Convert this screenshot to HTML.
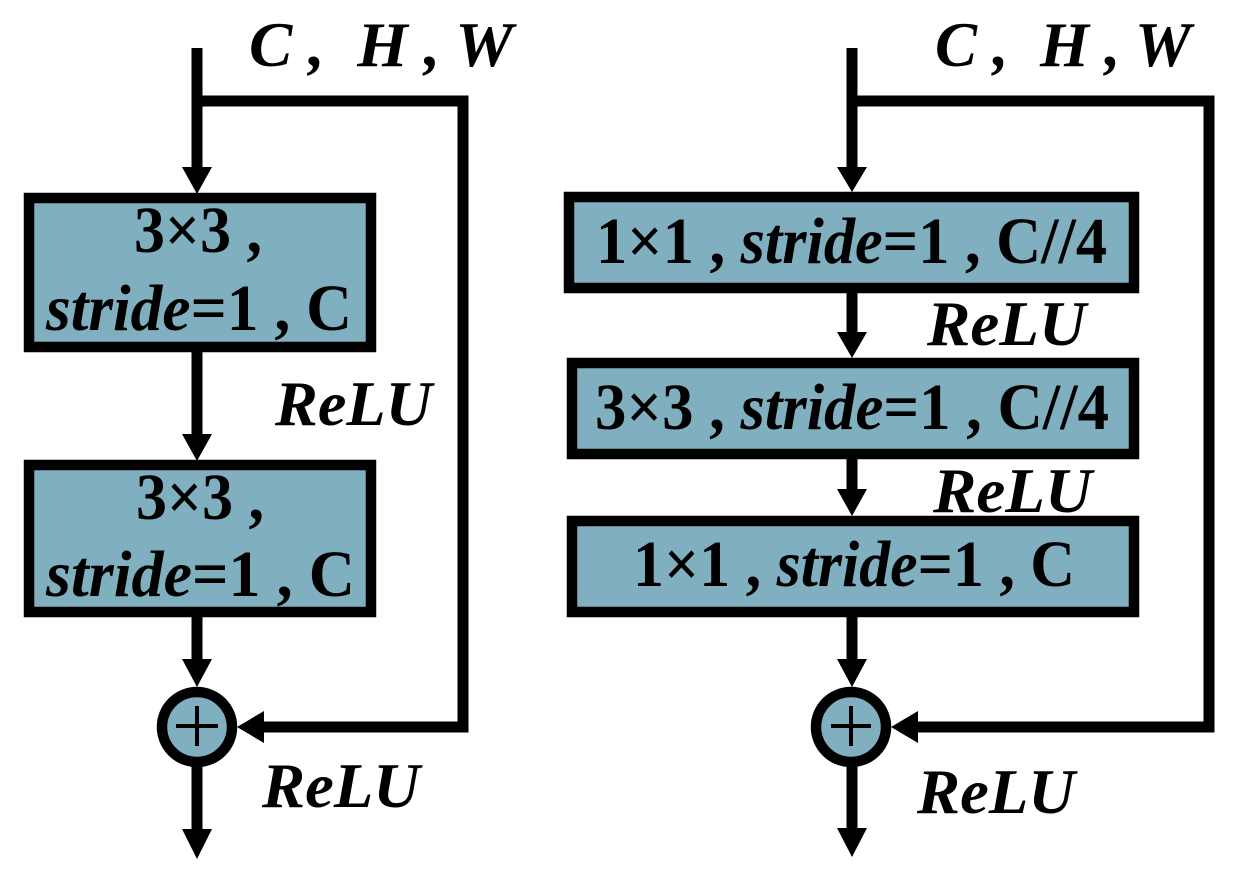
<!DOCTYPE html>
<html><head><meta charset="utf-8"><style>
html,body{margin:0;padding:0;background:#fff;}
svg{display:block;}
</style></head><body>
<svg width="1248" height="880" viewBox="0 0 1248 880" xmlns="http://www.w3.org/2000/svg">
<g fill="none" stroke="#000" stroke-width="11">
<polyline points="197,48 197,170"/>
<polyline points="197,101 463,101 463,727 262,727"/>
<line x1="197" y1="352" x2="197" y2="436"/>
<line x1="197" y1="617" x2="197" y2="662"/>
<line x1="197" y1="765" x2="197" y2="832"/>
<polyline points="852,48 852,170"/>
<polyline points="852,101 1209,101 1209,727 916,727"/>
<line x1="852" y1="293" x2="852" y2="334"/>
<line x1="852" y1="459" x2="852" y2="490"/>
<line x1="852" y1="617" x2="852" y2="662"/>
<line x1="852" y1="765" x2="852" y2="830"/>
</g>
<g fill="#000">
<polygon points="182,167 212,167 197,194"/>
<polygon points="182,434 212,434 197,461"/>
<polygon points="182,659 212,659 197,687"/>
<polygon points="182,829 212,829 197,859"/>
<polygon points="264,711 264,743 237,727"/>
<polygon points="837,167 867,167 852,192"/>
<polygon points="837,332 867,332 852,358"/>
<polygon points="837,489 867,489 852,516"/>
<polygon points="837,659 867,659 852,687"/>
<polygon points="837,828 867,828 852,857"/>
<polygon points="918,711 918,743 891,727"/>
</g>
<g fill="#80afbf" stroke="#000" stroke-width="10.5">
<rect x="29" y="198" width="342" height="149"/>
<rect x="29" y="465" width="342" height="147"/>
<rect x="569" y="197" width="565" height="91"/>
<rect x="572" y="363" width="562" height="91"/>
<rect x="572" y="521" width="562" height="91"/>
<circle cx="197" cy="727" r="35"/>
<circle cx="851" cy="727" r="35"/>
</g>
<g stroke="#000" stroke-width="4">
<line x1="176" y1="726" x2="218" y2="726"/><line x1="197" y1="706" x2="197" y2="746"/>
<line x1="831" y1="726" x2="871" y2="726"/><line x1="851" y1="706" x2="851" y2="746"/>
</g>
<g style="font-family:'Liberation Serif',serif;font-weight:bold;font-size:66px;" fill="#000">
<text x="136" y="519" textLength="128" lengthAdjust="spacingAndGlyphs">3×3 ,</text>
<text x="134" y="252" textLength="128" lengthAdjust="spacingAndGlyphs">3×3 ,</text>
<text x="46" y="330" textLength="306" lengthAdjust="spacingAndGlyphs"><tspan font-style="italic">stride</tspan>=1 , C</text>
<text x="46" y="596" textLength="309" lengthAdjust="spacingAndGlyphs"><tspan font-style="italic">stride</tspan>=1 , C</text>
<text x="596" y="263" textLength="511" lengthAdjust="spacingAndGlyphs">1×1 , <tspan font-style="italic">stride</tspan>=1 , C//4</text>
<text x="595" y="429" textLength="514" lengthAdjust="spacingAndGlyphs">3×3 , <tspan font-style="italic">stride</tspan>=1 , C//4</text>
<text x="633" y="586" textLength="442" lengthAdjust="spacingAndGlyphs">1×1 , <tspan font-style="italic">stride</tspan>=1 , C</text>
</g>
<g style="font-family:'Liberation Serif',serif;font-weight:bold;font-style:italic;font-size:64px;" fill="#000">
<text x="249" y="66" textLength="264" lengthAdjust="spacingAndGlyphs" xml:space="preserve">C ,  H , W</text>
<text x="935" y="66" textLength="256" lengthAdjust="spacingAndGlyphs" xml:space="preserve">C ,  H , W</text>
<text x="275" y="425" textLength="157" lengthAdjust="spacingAndGlyphs">ReLU</text>
<text x="262" y="807" textLength="158" lengthAdjust="spacingAndGlyphs">ReLU</text>
<text x="927" y="345" textLength="159" lengthAdjust="spacingAndGlyphs">ReLU</text>
<text x="933" y="512" textLength="159" lengthAdjust="spacingAndGlyphs">ReLU</text>
<text x="917" y="813" textLength="158" lengthAdjust="spacingAndGlyphs">ReLU</text>
</g>
</svg>
</body></html>
